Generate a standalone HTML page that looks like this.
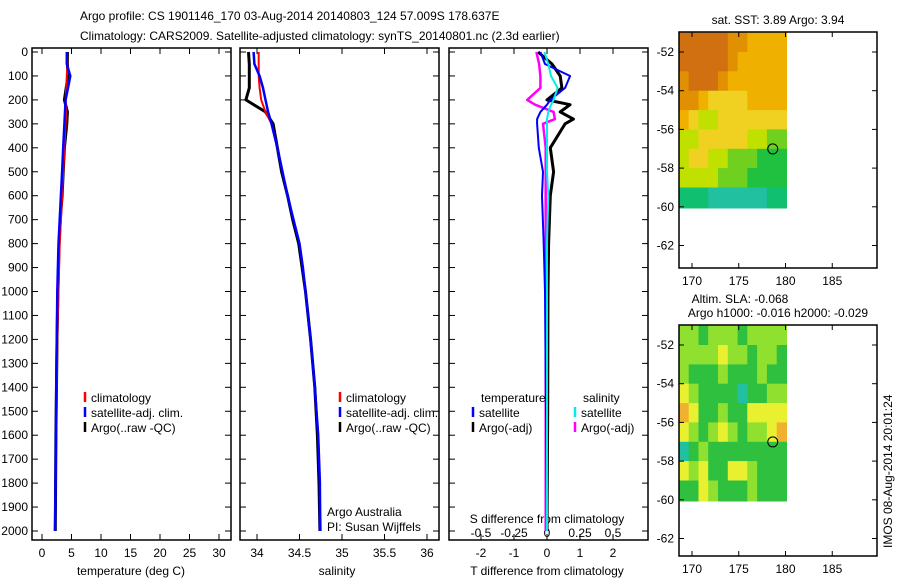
<!DOCTYPE html>
<html><head><meta charset="utf-8"><style>
body{margin:0;background:#fff}
svg{display:block;font-family:"Liberation Sans",sans-serif;font-size:12px}
</style></head><body>
<svg id="c" width="900" height="580" viewBox="0 0 900 580">
<text x="80" y="20">Argo profile: CS 1901146_170 03-Aug-2014 20140803_124 57.009S 178.637E</text>
<text x="80" y="40">Climatology: CARS2009. Satellite-adjusted climatology: synTS_20140801.nc (2.3d earlier)</text>
</svg>
<script>
const depths=[0,50,100,150,200,250,300,400,500,600,700,800,900,1000,1200,1400,1600,1800,2000];
const climT=[4.2,4.3,4.2,4.1,4.0,4.1,4.0,3.8,3.6,3.4,3.2,3.0,2.9,2.8,2.6,2.5,2.4,2.3,2.2];
const satT=[4.2,4.2,4.8,4.4,4.0,3.9,3.8,3.6,3.4,3.2,3.0,2.8,2.7,2.6,2.5,2.4,2.35,2.3,2.2];
const argoT=[4.3,4.3,4.4,4.1,3.8,4.3,4.2,3.8,3.6,3.4,3.1,2.9,2.8,2.7,2.55,2.45,2.35,2.3,2.25];
const climS=[34.02,34.02,34.02,34.03,34.05,34.10,34.17,34.24,34.30,34.36,34.43,34.50,34.54,34.57,34.63,34.68,34.72,34.74,34.75];
const satS=[33.96,33.97,34.03,34.07,34.10,34.13,34.17,34.24,34.30,34.36,34.43,34.50,34.54,34.57,34.63,34.68,34.72,34.74,34.74];
const argoS=[33.90,33.91,33.91,33.91,33.87,34.10,34.19,34.24,34.29,34.36,34.42,34.49,34.53,34.57,34.63,34.68,34.71,34.73,34.74];
const diffDepths=[0,50,100,150,200,220,250,280,300,400,500,600,800,1000,1500,2000];
const dTsat=[-0.2,-0.06,0.7,0.55,0.1,0,-0.2,-0.3,-0.3,-0.25,-0.12,-0.15,-0.1,-0.06,-0.03,0];
const dTargo=[-0.27,0.15,0.4,0.45,0,0.7,0.4,0.8,0.55,0.1,0.2,0.1,0.05,0.03,0.02,0];
const dSsat=[-0.02,0.01,0.03,0.08,0.05,0.03,0.01,0,0,0,0,0.01,0,0,0,0];
const dSargo=[-0.08,-0.06,-0.05,-0.05,-0.15,-0.09,0.05,0.06,-0.03,-0.01,-0.01,-0.01,-0.01,-0.01,-0.01,-0.01];
const depthTicks=[0,100,200,300,400,500,600,700,800,900,1000,1100,1200,1300,1400,1500,1600,1700,1800,1900,2000];
const tTicks=[0,5,10,15,20,25,30];
const sTicks=[34,34.5,35,35.5,36];
const sTickLabels=["34","34.5","35","35.5","36"];
const dTTicks=[-2,-1,0,1,2];
const dSTicks=[-0.5,-0.25,0,0.25,0.5];
const dSTickLabels=["-0.5","-0.25","0","0.25","0.5"];
const lonTicks=[170,175,180,185];
const latTicks=[-52,-54,-56,-58,-60,-62];
const sstGrid=[
[9,9,9,9,9,8,8,7,7,7,7],
[9,9,9,9,9,8,7,7,7,7,7],
[8,9,9,9,8,7,7,7,7,7,7],
[8,8,7,6,6,6,6,7,7,7,7],
[7,6,5,5,6,6,6,6,6,6,6],
[5,5,6,6,6,6,6,5,5,4,4],
[5,6,6,5,5,4,4,4,3,3,3],
[5,5,5,5,4,4,4,3,3,3,3],
[2,2,2,1,1,1,1,1,1,2,2]];
const slaGrid=[
[2,2,1,2,2,2,1,2,2,2,2],
[2,2,2,2,3,2,2,1,2,2,1],
[2,1,1,1,2,1,1,1,2,1,1],
[3,2,1,1,1,1,0,1,1,2,2],
[4,3,1,1,2,1,1,3,3,3,3],
[3,2,1,2,3,2,1,2,2,3,4],
[0,1,2,1,1,1,1,1,1,1,1],
[3,2,3,1,1,3,3,2,1,1,1],
[1,1,3,2,1,1,1,2,1,1,1]];
const argoLon=178.637, argoLat=-57.009;

const NS="http://www.w3.org/2000/svg";const svg=document.getElementById('c');
function el(t,a,p){const e=document.createElementNS(NS,t);for(const k in a)e.setAttribute(k,a[k]);(p||svg).appendChild(e);return e;}
function txt(x,y,s,anchor){const e=el('text',{x:x,y:y,'text-anchor':anchor||'start'});e.textContent=s;return e;}
const Y=d=>52+d*0.2395;
const PT=48, PB=540;
const panels=[{x0:32,x1:231},{x0:240,x1:439},{x0:449,x1:648}];
const xT=v=>42+v*5.9, xS=v=>257+(v-34)*85, xDT=v=>547+v*33, xDS=v=>547+v*132;
panels.forEach((p,i)=>{const r=el('rect',{x:p.x0,y:PT,width:p.x1-p.x0,height:PB-PT,fill:'none',stroke:'#000','stroke-width':1.5});

depthTicks.forEach(d=>{el('line',{x1:p.x0,x2:p.x0+6,y1:Y(d),y2:Y(d),stroke:'#000'});el('line',{x1:p.x1,x2:p.x1-6,y1:Y(d),y2:Y(d),stroke:'#000'});});});
depthTicks.forEach(d=>{const t=txt(28,Y(d)+4,String(d),'end');});
function xticks(ticks,labels,fx,ly){ticks.forEach((v,i)=>{const x=fx(v);el('line',{x1:x,x2:x,y1:PB,y2:PB-6,stroke:'#000'});el('line',{x1:x,x2:x,y1:PT,y2:PT+6,stroke:'#000'});
const t=txt(x,ly,labels[i],'middle');});}
xticks(tTicks,tTicks.map(String),xT,557);
xticks(sTicks,sTickLabels,xS,557);
xticks(dTTicks,dTTicks.map(String),xDT,557);
dSTicks.forEach((v,i)=>{const t=txt(xDS(v),537,dSTickLabels[i],'middle');});
let t;
t=txt(131,575,'temperature (deg C)','middle');
t=txt(337,575,'salinity','middle');
t=txt(547,575,'T difference from climatology','middle');
t=txt(547,523,'S difference from climatology','middle');
t=txt(327,516,'Argo Australia');
t=txt(327,531,'PI: Susan Wijffels');
function line(vals,ds,fx,col,w,name){const pts=vals.map((v,i)=>fx(v).toFixed(1)+','+Y(ds[i]).toFixed(1)).join(' ');
const e=el('polyline',{points:pts,fill:'none',stroke:col,'stroke-width':w,'stroke-linejoin':'round'});
}
line(argoT,depths,xT,'#000',3,'argo-temperature-line');
line(climT,depths,xT,'#f00',2,'climatology-temperature-line');
line(satT,depths,xT,'#00f',2.5,'satellite-temperature-line');
line(argoS,depths,xS,'#000',3,'argo-salinity-line');
line(climS,depths,xS,'#f00',2,'climatology-salinity-line');
line(satS,depths,xS,'#00f',2.5,'satellite-salinity-line');
line(dTargo,diffDepths,xDT,'#000',3,'argo-t-diff-line');
line(dSargo,diffDepths,xDS,'#f0f',2.5,'argo-s-diff-line');
line(dTsat,diffDepths,xDT,'#00f',2,'satellite-t-diff-line');
line(dSsat,diffDepths,xDS,'#0ee',2,'satellite-s-diff-line');
function leg(x,y,col,s,name){el('line',{x1:x,x2:x,y1:y-10,y2:y,stroke:col,'stroke-width':2.5});const e=txt(x+6,y,s);}
leg(85,402,'#f00','climatology','legend-climatology');leg(85,417,'#00f','satellite-adj. clim.','legend-satellite');leg(85,432,'#000','Argo(..raw -QC)','legend-argo');
leg(340,402,'#f00','climatology','legend-climatology-s');leg(340,417,'#00f','satellite-adj. clim.','legend-satellite-s');leg(340,432,'#000','Argo(..raw -QC)','legend-argo-s');
t=txt(481,402,'temperature');
t=txt(583,402,'salinity');
leg(473,417,'#00f','satellite','legend-t-satellite');leg(473,432,'#000','Argo(-adj)','legend-t-argo');
leg(575,417,'#0ee','satellite','legend-s-satellite');leg(575,432,'#f0f','Argo(-adj)','legend-s-argo');
const sstCols=['#20c8d0','#20c0a0','#10c070','#20c040','#70d020','#c0e000','#f0d020','#f0b000','#e09000','#d07010'];
const slaCols=['#20c0a0','#30c040','#90e030','#e8f030','#f0b030'];
function map(top,bottom,y52,grid,cols,name){const x0=679,x1=877;
const LX=v=>692+(v-170)*9.35, LY=v=>y52+(-52-v)*19.35;
grid.forEach((row,r)=>row.forEach((v,c)=>{const lon=168.6+c*(11.5/11);const lat=-51-r;
const e=el('rect',{x:LX(lon).toFixed(1),y:LY(lat).toFixed(1),width:(9.35*11.5/11+0.5).toFixed(1),height:(r==8?21:20),fill:cols[v]});
}));
const f=el('rect',{x:x0,y:top,width:x1-x0,height:bottom-top,fill:'none',stroke:'#000','stroke-width':1.5});

lonTicks.forEach(v=>{const x=LX(v);el('line',{x1:x,x2:x,y1:top,y2:top+5,stroke:'#000'});el('line',{x1:x,x2:x,y1:bottom,y2:bottom-5,stroke:'#000'});
const e=txt(x,bottom+17,String(v),'middle');});
latTicks.forEach(v=>{const y=LY(v);el('line',{x1:x1,x2:x1-5,y1:y,y2:y,stroke:'#000'});el('line',{x1:x0,x2:x0+5,y1:y,y2:y,stroke:'#000'});
const e=txt(674,y+4,String(v),'end');});
const c=el('circle',{cx:LX(argoLon),cy:LY(argoLat),r:5,fill:'none',stroke:'#000','stroke-width':1});
}
map(32,268,52,sstGrid,sstCols,'sst-map');
map(325,556,345,slaGrid,slaCols,'sla-map');
t=txt(778,24,'sat. SST: 3.89 Argo: 3.94','middle');
t=txt(740,303,'Altim. SLA: -0.068','middle');
t=txt(778,317,'Argo h1000: -0.016 h2000: -0.029','middle');
t=txt(0,0,'IMOS 08-Aug-2014 20:01:24','start');t.setAttribute('transform','translate(892,548) rotate(-90)');
</script>
</body></html>
